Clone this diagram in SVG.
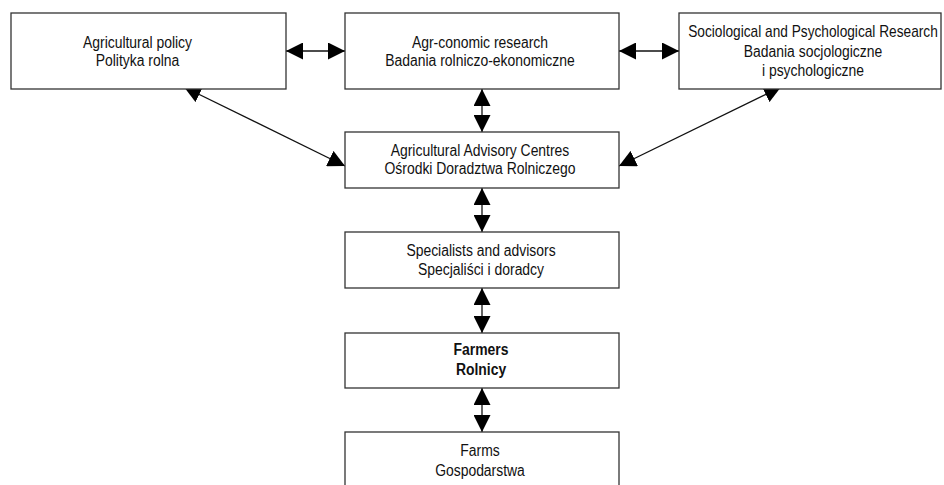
<svg xmlns="http://www.w3.org/2000/svg" width="944" height="485" viewBox="0 0 944 485">
<style>
.box{fill:#fff;stroke:#333;stroke-width:1.3}
.t{font-family:"Liberation Sans",Arial,sans-serif;font-size:16px;fill:#111;text-anchor:middle}
.b{font-weight:bold}
.c{stroke:#111;stroke-width:1.3;fill:none;marker-start:url(#ah);marker-end:url(#ah)}
</style>
<defs>
<marker id="ah" markerUnits="userSpaceOnUse" markerWidth="17" markerHeight="17" refX="16" refY="8" orient="auto-start-reverse" viewBox="0 0 16 16">
<path d="M0,0 L16,8 L0,16 z" fill="#000"/>
</marker>
</defs>
<g id="connectors">
<line class="c" x1="286" y1="51" x2="345" y2="51"/>
<line class="c" x1="619" y1="51" x2="679" y2="51"/>
<line class="c" x1="482" y1="89" x2="482" y2="132"/>
<line class="c" x1="482" y1="188" x2="482" y2="232"/>
<line class="c" x1="482" y1="288" x2="482" y2="333"/>
<line class="c" x1="482" y1="388" x2="482" y2="432"/>
<line class="c" x1="184" y1="87" x2="345" y2="166"/>
<line class="c" x1="781" y1="87" x2="619" y2="166"/>
</g>
<g id="n1">
<rect class="box" x="11" y="13" width="275" height="76"/>
<text class="t" transform="translate(137.5 48) scale(0.87 1)">Agricultural policy</text>
<text class="t" transform="translate(137.5 66) scale(0.87 1)">Polityka rolna</text>
</g>
<g id="n2">
<rect class="box" x="345" y="13" width="274" height="76"/>
<text class="t" transform="translate(480 48) scale(0.87 1)">Agr-conomic research</text>
<text class="t" transform="translate(480 66) scale(0.87 1)">Badania rolniczo-ekonomiczne</text>
</g>
<g id="n3">
<rect class="box" x="679" y="13" width="262" height="76"/>
<text class="t" transform="translate(813 37) scale(0.857 1)">Sociological and Psychological Research</text>
<text class="t" transform="translate(813 56.5) scale(0.87 1)">Badania socjologiczne</text>
<text class="t" transform="translate(813 76) scale(0.87 1)">i psychologiczne</text>
</g>
<g id="n4">
<rect class="box" x="345" y="132" width="274" height="56"/>
<text class="t" transform="translate(480 156) scale(0.87 1)">Agricultural Advisory Centres</text>
<text class="t" transform="translate(480 174) scale(0.87 1)">Ośrodki Doradztwa Rolniczego</text>
</g>
<g id="n5">
<rect class="box" x="345" y="232" width="274" height="56"/>
<text class="t" transform="translate(481 256) scale(0.87 1)">Specialists and advisors</text>
<text class="t" transform="translate(481 275) scale(0.87 1)">Specjaliści i doradcy</text>
</g>
<g id="n6">
<rect class="box" x="345" y="333" width="274" height="55"/>
<text class="t b" transform="translate(481 355) scale(0.87 1)">Farmers</text>
<text class="t b" transform="translate(481 375) scale(0.87 1)">Rolnicy</text>
</g>
<g id="n7">
<rect class="box" x="345" y="432" width="274" height="60"/>
<text class="t" transform="translate(480 456) scale(0.87 1)">Farms</text>
<text class="t" transform="translate(480 476) scale(0.87 1)">Gospodarstwa</text>
</g>
</svg>
